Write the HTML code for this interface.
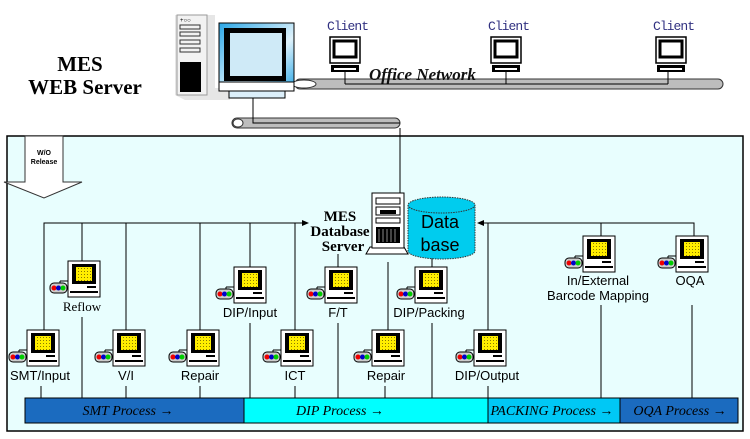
<!DOCTYPE html>
<html><head><meta charset="utf-8"><style>
html,body{margin:0;padding:0;background:#fff;}
svg{display:block;}
.s{font-family:"Liberation Sans",sans-serif;font-size:13px;}
.b{font-family:"Liberation Serif",serif;font-weight:bold;}
</style></head><body>
<svg width="750" height="439" viewBox="0 0 750 439" xmlns="http://www.w3.org/2000/svg">
<defs>
<linearGradient id="scr" x1="0" y1="0" x2="1" y2="1"><stop offset="0" stop-color="#2aa6e6"/><stop offset="0.6" stop-color="#dff2fb"/><stop offset="1" stop-color="#2aa6e6"/></linearGradient>
<pattern id="dots" width="3" height="3" patternUnits="userSpaceOnUse"><rect width="3" height="3" fill="#ffee00"/><rect x="1" y="1" width="1" height="1" fill="#8a7a00"/></pattern>
<g id="t">
<line x1="4" y1="20" x2="-8" y2="20" stroke="#000"/>
<line x1="-8" y1="20" x2="-8" y2="23" stroke="#000"/>
<rect x="0" y="0" width="32" height="36" fill="#fff" stroke="#000"/>
<rect x="4" y="3" width="24" height="20" fill="#000"/>
<rect x="8" y="6" width="16" height="14" fill="url(#dots)"/>
<rect x="19" y="25" width="9" height="2" fill="#000"/>
<rect x="2" y="30" width="28" height="2" fill="#000"/>
<rect x="-18" y="22" width="17" height="10" rx="4" fill="#ccc" stroke="#000"/>
<circle cx="-14" cy="27" r="2.5" fill="#e00"/><circle cx="-9.5" cy="27" r="2.5" fill="#00c"/><circle cx="-5" cy="27" r="2.5" fill="#0c0"/>
</g>
<g id="c">
<rect x="0" y="0" width="30" height="26" fill="#fff" stroke="#000" stroke-width="1.5"/>
<rect x="4" y="4" width="22" height="16" fill="#fff" stroke="#000" stroke-width="3"/>
<rect x="1" y="28" width="28" height="7" fill="#000"/>
<rect x="4" y="31" width="22" height="2" fill="#fff"/>
</g>
</defs>

<text x="80" y="71" text-anchor="middle" class="b" font-size="21">MES</text>
<text x="85" y="94" text-anchor="middle" class="b" font-size="21">WEB Server</text>

<rect x="295" y="79" width="428" height="10" rx="5" fill="#bdbdbd" stroke="#333"/>
<ellipse cx="304" cy="84" rx="12" ry="4" fill="#fff" stroke="#333"/>
<line x1="345" y1="72" x2="345" y2="84" stroke="#000"/>
<line x1="345" y1="84" x2="668" y2="84" stroke="#000"/>
<line x1="506" y1="72" x2="506" y2="84" stroke="#000"/>
<line x1="668" y1="72" x2="668" y2="84" stroke="#000"/>
<use href="#c" x="330" y="37"/>
<use href="#c" x="491" y="37"/>
<use href="#c" x="656" y="37"/>
<text x="327" y="30" font-family="Liberation Mono,monospace" font-size="13" fill="#303080" textLength="42">Client</text>
<text x="488" y="30" font-family="Liberation Mono,monospace" font-size="13" fill="#303080" textLength="42">Client</text>
<text x="653" y="30" font-family="Liberation Mono,monospace" font-size="13" fill="#303080" textLength="42">Client</text>
<text x="369" y="80" class="b" font-style="italic" font-size="17" fill="#111">Office Network</text>

<rect x="232" y="118" width="168" height="10" rx="5" fill="#bdbdbd" stroke="#333"/>
<ellipse cx="238" cy="123" rx="5" ry="4" fill="#fff" stroke="#333"/>
<polyline points="253,98 253,123 400,123" fill="none" stroke="#000"/>

<polygon points="175,95 185,100 230,100 230,88 215,88 215,15 175,15" fill="#e6e6e6"/>
<rect x="177" y="15" width="30" height="80" fill="#f2f2f2" stroke="#999"/>
<rect x="180" y="62" width="21" height="30" fill="#000"/>
<rect x="180" y="25" width="20" height="4" fill="none" stroke="#333"/>
<rect x="180" y="32" width="20" height="4" fill="none" stroke="#333"/>
<rect x="180" y="40" width="20" height="4" fill="none" stroke="#333"/>
<rect x="180" y="48" width="20" height="4" fill="none" stroke="#333"/>
<text x="180" y="22" font-size="6" font-family="Liberation Sans">+○○</text>
<rect x="219" y="23" width="75" height="68" fill="url(#scr)" stroke="#000"/>
<rect x="224" y="28" width="62" height="53" fill="#000"/>
<rect x="230" y="33" width="52" height="43" fill="#cfeaf7"/>
<rect x="219" y="82" width="75" height="9" fill="#fff" stroke="#000"/>
<rect x="229" y="91" width="56" height="7" fill="#dceffa" stroke="#000"/>

<rect x="7" y="136" width="736" height="295" fill="#e8fefe" stroke="#000" stroke-width="1.5"/>
<line x1="400" y1="128" x2="400" y2="193" stroke="#000"/>

<polygon points="25,136 63,136 63,182 82,182 44,198 4,182 25,182" fill="#fff" stroke="#333"/>
<text x="44" y="155" text-anchor="middle" font-family="Liberation Sans" font-weight="bold" font-size="7">W/O</text>
<text x="44" y="164" text-anchor="middle" font-family="Liberation Sans" font-weight="bold" font-size="7">Release</text>

<g stroke="#000" fill="none">
<polyline points="44,330 44,223 304,223"/>
<line x1="82" y1="223" x2="82" y2="261"/>
<line x1="126" y1="223" x2="126" y2="330"/>
<line x1="200" y1="223" x2="200" y2="330"/>
<line x1="250" y1="223" x2="250" y2="267"/>
<line x1="295" y1="223" x2="295" y2="330"/>
<line x1="338" y1="254" x2="338" y2="267"/>
<line x1="388" y1="262" x2="388" y2="330"/>
<line x1="432" y1="258" x2="432" y2="267"/>
<polyline points="488,330 488,223 694,223 694,236"/>
<line x1="601" y1="223" x2="601" y2="236"/>
<line x1="480" y1="223" x2="488" y2="223"/>
<line x1="41" y1="386" x2="41" y2="398"/>
<line x1="82" y1="317" x2="82" y2="398"/>
<line x1="126" y1="386" x2="126" y2="398"/>
<line x1="200" y1="386" x2="200" y2="398"/>
<line x1="250" y1="323" x2="250" y2="398"/>
<line x1="295" y1="386" x2="295" y2="398"/>
<line x1="338" y1="323" x2="338" y2="398"/>
<line x1="385" y1="386" x2="385" y2="398"/>
<line x1="432" y1="323" x2="432" y2="398"/>
<line x1="488" y1="386" x2="488" y2="398"/>
<line x1="601" y1="305" x2="601" y2="398"/>
<line x1="692" y1="305" x2="692" y2="398"/>
</g>
<polygon points="309,223 302,220 302,226" fill="#000"/>
<polygon points="477,223 484,220 484,226" fill="#000"/>

<polygon points="370,247 366,254 408,254 404,247" fill="#fff" stroke="#000"/>
<rect x="372" y="193" width="32" height="55" fill="#fff" stroke="#000"/>
<rect x="376" y="198" width="24" height="6" fill="none" stroke="#000"/>
<rect x="376" y="207" width="24" height="8" fill="none" stroke="#000"/>
<rect x="380" y="210" width="16" height="4" fill="#000"/>
<rect x="376" y="218" width="24" height="5" fill="none" stroke="#000"/>
<rect x="376" y="227" width="24" height="16" fill="#000"/>
<g stroke="#888"><line x1="379" y1="229" x2="379" y2="242"/><line x1="383" y1="229" x2="383" y2="242"/><line x1="387" y1="229" x2="387" y2="242"/><line x1="391" y1="229" x2="391" y2="242"/><line x1="395" y1="229" x2="395" y2="242"/></g>
<path d="M408,205 L408,251 A33.5,8 0 0 0 475,251 L475,205" fill="#00ccee" stroke="#333" stroke-dasharray="1.5,1"/>
<ellipse cx="441.5" cy="205" rx="33.5" ry="8" fill="#00ccee" stroke="#333" stroke-dasharray="1.5,1"/>
<text x="440" y="228" text-anchor="middle" style="font-family:'Liberation Sans',sans-serif;font-size:18px">Data</text>
<text x="440" y="251" text-anchor="middle" style="font-family:'Liberation Sans',sans-serif;font-size:18px">base</text>
<text x="340" y="221" text-anchor="middle" class="b" font-size="15">MES</text>
<text x="340" y="236" text-anchor="middle" class="b" font-size="15">Database</text>
<text x="343" y="251" text-anchor="middle" class="b" font-size="15">Server</text>

<use href="#t" x="27" y="330"/>
<use href="#t" x="68" y="261"/>
<use href="#t" x="113" y="330"/>
<use href="#t" x="187" y="330"/>
<use href="#t" x="234" y="267"/>
<use href="#t" x="281" y="330"/>
<use href="#t" x="325" y="267"/>
<use href="#t" x="372" y="330"/>
<use href="#t" x="415" y="267"/>
<use href="#t" x="474" y="330"/>
<use href="#t" x="583" y="236"/>
<use href="#t" x="676" y="236"/>

<g class="s" text-anchor="middle">
<text x="40" y="380">SMT/Input</text>
<text x="82" y="311" style="font-family:'Liberation Serif',serif">Reflow</text>
<text x="126" y="380">V/I</text>
<text x="200" y="380">Repair</text>
<text x="250" y="317">DIP/Input</text>
<text x="295" y="380">ICT</text>
<text x="338" y="317">F/T</text>
<text x="386" y="380">Repair</text>
<text x="429" y="317">DIP/Packing</text>
<text x="487" y="380">DIP/Output</text>
<text x="598" y="285">In/External</text>
<text x="598" y="300">Barcode Mapping</text>
<text x="690" y="285">OQA</text>
</g>

<rect x="25" y="398" width="219" height="25" fill="#1b6bbf" stroke="#000"/>
<rect x="244" y="398" width="244" height="25" fill="#00ffff" stroke="#000"/>
<rect x="488" y="398" width="132" height="25" fill="#00c8f5" stroke="#000"/>
<rect x="620" y="398" width="118" height="25" fill="#1b6bbf" stroke="#000"/>
<g font-family="Liberation Serif,serif" font-style="italic" font-size="14" fill="#000" text-anchor="middle">
<text x="128" y="415">SMT Process →</text>
<text x="340" y="415">DIP Process →</text>
<text x="552" y="415">PACKING Process →</text>
<text x="680" y="415">OQA Process →</text>
</g>
</svg>
</body></html>
